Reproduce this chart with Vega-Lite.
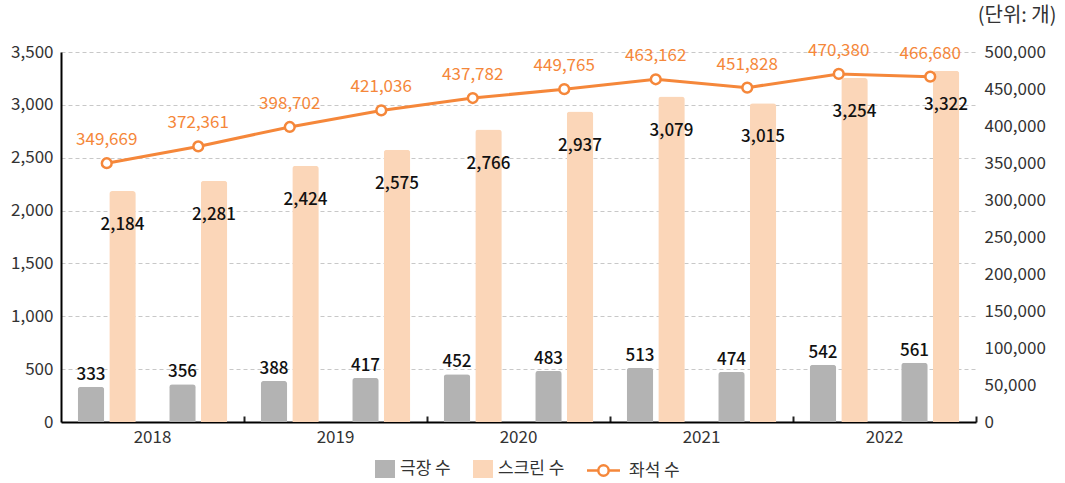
{
  "$schema": "https://vega.github.io/schema/vega-lite/v6.json",
  "width": 915,
  "height": 370,
  "autosize": {"type": "none"},
  "padding": {"left": 61, "top": 52, "right": 89, "bottom": 61},
  "background": "white",
  "config": {
    "font": "Noto Sans CJK KR",
    "view": {"stroke": null},
    "axis": {"labelFont": "Noto Sans CJK KR", "titleFont": "Noto Sans CJK KR"},
    "legend": {"labelFont": "Noto Sans CJK KR"}
  },
  "data": {
    "values": [
      {"period": "2018-1", "극장 수": 333, "스크린 수": 2184, "좌석 수": 349669},
      {"period": "2018-2", "극장 수": 356, "스크린 수": 2281, "좌석 수": 372361},
      {"period": "2019-1", "극장 수": 388, "스크린 수": 2424, "좌석 수": 398702},
      {"period": "2019-2", "극장 수": 417, "스크린 수": 2575, "좌석 수": 421036},
      {"period": "2020-1", "극장 수": 452, "스크린 수": 2766, "좌석 수": 437782},
      {"period": "2020-2", "극장 수": 483, "스크린 수": 2937, "좌석 수": 449765},
      {"period": "2021-1", "극장 수": 513, "스크린 수": 3079, "좌석 수": 463162},
      {"period": "2021-2", "극장 수": 474, "스크린 수": 3015, "좌석 수": 451828},
      {"period": "2022-1", "극장 수": 542, "스크린 수": 3254, "좌석 수": 470380},
      {"period": "2022-2", "극장 수": 561, "스크린 수": 3322, "좌석 수": 466680}
    ]
  },
  "encoding": {
    "x": {
      "field": "period",
      "type": "ordinal",
      "sort": null,
      "scale": {"paddingInner": 0, "paddingOuter": 0},
      "axis": {
        "title": null,
        "bandPosition": 1,
        "labelOffset": 45.75,
        "labelExpr": "indexof(datum.value + '', '-1') > 0 ? substring(datum.value + '', 0, 4) : ''",
        "labelAngle": 0,
        "labelFontSize": 17,
        "labelColor": "#333333",
        "labelPadding": 13,
        "domainColor": "#000000",
        "domainWidth": 2,
        "tickColor": "#222222",
        "tickWidth": 2,
        "tickSize": -6,
        "tickOpacity": {"condition": {"test": "indexof(datum.value + '', '-2') > 0", "value": 1}, "value": 0},
        "grid": false
      }
    }
  },
  "layer": [
    {
      "transform": [{"fold": ["극장 수", "스크린 수"], "as": ["series", "value"]}],
      "encoding": {
        "xOffset": {
          "field": "series",
          "type": "nominal",
          "sort": ["극장 수", "스크린 수"],
          "scale": {"paddingInner": 0.16, "paddingOuter": 0.53}
        },
        "y": {
          "field": "value",
          "type": "quantitative",
          "scale": {"domain": [0, 3500], "nice": false},
          "axis": {
            "title": null,
            "orient": "left",
            "values": [0, 500, 1000, 1500, 2000, 2500, 3000, 3500],
            "format": ",d",
            "labelFontSize": 17,
            "labelColor": "#333333",
            "labelPadding": 8,
            "ticks": false,
            "domainColor": "#000000",
            "domainWidth": 2,
            "grid": true,
            "gridColor": "#c8c8c8",
            "gridDash": [4, 3],
            "gridWidth": 1
          }
        }
      },
      "layer": [
        {
          "mark": {"type": "bar", "cornerRadiusTopLeft": 3, "cornerRadiusTopRight": 3},
          "encoding": {
            "color": {
              "field": "series",
              "type": "nominal",
              "sort": ["극장 수", "스크린 수"],
              "scale": {"domain": ["극장 수", "스크린 수"], "range": ["#b3b3b3", "#fbd6b8"]},
              "legend": {
                "title": null,
                "orient": "none",
                "legendX": 314,
                "legendY": 407,
                "direction": "horizontal",
                "padding": 0,
                "symbolType": "M-1,-0.9H1V0.9H-1Z",
                "symbolSize": 400,
                "symbolStrokeWidth": 0,
                "labelFontSize": 17,
                "labelColor": "#333333",
                "labelOffset": 5,
                "columnPadding": 22
              }
            }
          }
        },
        {
          "transform": [{"filter": "datum.series == '극장 수'"}],
          "mark": {"type": "text", "dy": -12, "baseline": "middle", "fontSize": 17, "fontWeight": 500, "color": "#111111"},
          "encoding": {"text": {"field": "value", "type": "quantitative", "format": ","}}
        },
        {
          "transform": [{"filter": "datum.series == '스크린 수'"}],
          "mark": {"type": "text", "dy": 34, "baseline": "middle", "fontSize": 17, "fontWeight": 500, "color": "#111111"},
          "encoding": {"text": {"field": "value", "type": "quantitative", "format": ","}}
        }
      ]
    },
    {
      "encoding": {
        "y": {
          "field": "좌석 수",
          "type": "quantitative",
          "scale": {"domain": [0, 500000], "nice": false},
          "axis": {
            "title": "(단위: 개)",
            "orient": "right",
            "values": [0, 50000, 100000, 150000, 200000, 250000, 300000, 350000, 400000, 450000, 500000],
            "format": ",d",
            "labelFontSize": 17,
            "labelColor": "#333333",
            "labelPadding": 8,
            "ticks": false,
            "domain": false,
            "grid": false,
            "titleAngle": 0,
            "titleAlign": "right",
            "titleBaseline": "middle",
            "titleX": 80,
            "titleY": -37,
            "titleFontSize": 20,
            "titleFontWeight": "normal",
            "titleColor": "#333333"
          }
        }
      },
      "layer": [
        {
          "mark": {"type": "line", "strokeWidth": 3},
          "encoding": {
            "stroke": {
              "datum": "좌석 수",
              "type": "nominal",
              "scale": {"domain": ["좌석 수"], "range": ["#f5873a"]},
              "legend": {
                "title": null,
                "orient": "none",
                "legendX": 531,
                "legendY": 407,
                "direction": "horizontal",
                "padding": 0,
                "symbolType": "M-1.65,0H-0.52M0.52,0H1.65M-0.52,0A0.52,0.52,0,1,1,0.52,0A0.52,0.52,0,1,1,-0.52,0Z",
                "symbolSize": 400,
                "symbolStrokeWidth": 2.5,
                "symbolFillColor": "white",
                "labelFontSize": 17,
                "labelColor": "#333333",
                "labelOffset": 14
              }
            }
          }
        },
        {
          "mark": {"type": "point", "filled": true, "fill": "white", "size": 95, "strokeWidth": 2.5, "opacity": 1},
          "encoding": {"stroke": {"datum": "좌석 수", "type": "nominal"}}
        },
        {
          "mark": {"type": "text", "dy": -23, "baseline": "middle", "fontSize": 17, "color": "#f5873a"},
          "encoding": {"text": {"field": "좌석 수", "type": "quantitative", "format": ","}}
        }
      ]
    }
  ],
  "resolve": {"scale": {"y": "independent"}}
}
